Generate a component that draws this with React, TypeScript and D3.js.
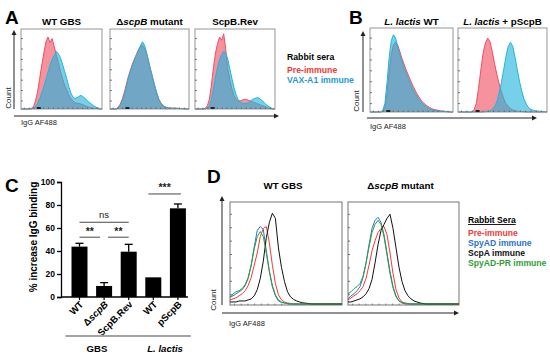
import { useEffect, useRef } from 'react'
import * as d3 from 'd3'

// A: GBS strains, rabbit sera (share of frame height per channel bin)
const wtGbsPre = [0, 0, 0, 0, 0, 0.01, 0.03, 0.1, 0.22, 0.38, 0.55, 0.7, 0.84, 0.9, 0.83, 0.88, 0.78, 0.68, 0.58, 0.47, 0.38, 0.3, 0.24, 0.18, 0.13, 0.1, 0.08, 0.07, 0.07, 0.06, 0.05, 0.04, 0.03, 0.02, 0.015, 0.01, 0.01, 0.005, 0, 0]
const wtGbsVax = [0, 0, 0, 0, 0, 0, 0.01, 0.03, 0.07, 0.13, 0.2, 0.28, 0.37, 0.46, 0.55, 0.62, 0.67, 0.72, 0.69, 0.64, 0.56, 0.47, 0.38, 0.28, 0.2, 0.15, 0.13, 0.14, 0.16, 0.17, 0.15, 0.13, 0.1, 0.08, 0.06, 0.04, 0.025, 0.015, 0.005, 0]
const mutantPre = [0, 0, 0, 0, 0.02, 0.06, 0.12, 0.2, 0.3, 0.4, 0.48, 0.56, 0.62, 0.68, 0.74, 0.78, 0.8, 0.76, 0.7, 0.6, 0.5, 0.4, 0.3, 0.21, 0.13, 0.08, 0.05, 0.03, 0.02, 0.015, 0.01, 0.01, 0.01, 0.01, 0.008, 0.005, 0.005, 0.003, 0, 0]
const mutantVax = [0, 0, 0, 0, 0.01, 0.04, 0.09, 0.16, 0.26, 0.37, 0.46, 0.54, 0.61, 0.67, 0.73, 0.79, 0.84, 0.8, 0.71, 0.6, 0.49, 0.39, 0.29, 0.2, 0.12, 0.07, 0.04, 0.025, 0.015, 0.01, 0.01, 0.01, 0.008, 0.008, 0.006, 0.005, 0.004, 0.002, 0, 0]
const revPre = [0, 0, 0, 0, 0, 0.01, 0.04, 0.12, 0.3, 0.52, 0.7, 0.82, 0.9, 0.86, 0.94, 0.74, 0.5, 0.36, 0.25, 0.17, 0.12, 0.1, 0.1, 0.11, 0.12, 0.12, 0.11, 0.1, 0.09, 0.08, 0.07, 0.06, 0.05, 0.04, 0.03, 0.02, 0.01, 0.005, 0, 0]
const revVax = [0, 0, 0, 0, 0, 0, 0.01, 0.04, 0.12, 0.25, 0.4, 0.52, 0.62, 0.68, 0.72, 0.7, 0.62, 0.5, 0.38, 0.27, 0.18, 0.12, 0.09, 0.07, 0.07, 0.07, 0.08, 0.1, 0.12, 0.13, 0.14, 0.14, 0.12, 0.1, 0.07, 0.05, 0.03, 0.015, 0.005, 0]

// B: L. lactis
const lactisWtPre = [0, 0, 0, 0, 0, 0, 0.01, 0.06, 0.22, 0.48, 0.68, 0.8, 0.83, 0.8, 0.72, 0.64, 0.57, 0.5, 0.44, 0.38, 0.32, 0.27, 0.22, 0.18, 0.14, 0.11, 0.09, 0.07, 0.055, 0.04, 0.03, 0.025, 0.02, 0.015, 0.01, 0.01, 0.005, 0, 0, 0]
const lactisWtVax = [0, 0, 0, 0, 0, 0, 0.02, 0.1, 0.35, 0.65, 0.85, 0.92, 0.88, 0.78, 0.68, 0.6, 0.52, 0.46, 0.4, 0.34, 0.28, 0.23, 0.19, 0.15, 0.12, 0.09, 0.07, 0.05, 0.04, 0.03, 0.02, 0.015, 0.01, 0.01, 0.008, 0.005, 0.005, 0.003, 0, 0]
const lactisPscpbPre = [0, 0, 0, 0, 0, 0, 0, 0.02, 0.1, 0.28, 0.5, 0.7, 0.82, 0.88, 0.84, 0.72, 0.58, 0.45, 0.34, 0.24, 0.16, 0.1, 0.07, 0.04, 0.025, 0.015, 0.01, 0.005, 0.005, 0.003, 0, 0, 0, 0, 0, 0, 0, 0, 0, 0]
const lactisPscpbVax = [0, 0, 0, 0, 0, 0, 0, 0, 0, 0, 0, 0, 0.005, 0.01, 0.015, 0.03, 0.06, 0.12, 0.22, 0.35, 0.5, 0.66, 0.78, 0.83, 0.78, 0.65, 0.5, 0.36, 0.24, 0.15, 0.09, 0.05, 0.03, 0.02, 0.015, 0.01, 0.01, 0.005, 0.005, 0]

// C: % increase IgG binding
const barLabels = ['WT', 'ΔscpB', 'ScpB.Rev', 'WT', 'pScpB']
const barMeans = [43.8, 9.6, 39.4, 17.1, 77.1]
const barErrors = [2.9, 2.9, 6.4, 0, 3.8]
const yTicks = [0, 20, 40, 60, 80, 100]
const comparisons: [number, number, string][] = [[0, 1, '**'], [1, 2, '**'], [0, 2, 'ns'], [3, 4, '***']]
const groups: [string, number, number][] = [['GBS', 0, 2], ['L. lactis', 3, 4]]

// D: four sera, line histograms
const dWtPre = [0.04, 0.05, 0.06, 0.08, 0.1, 0.13, 0.18, 0.26, 0.38, 0.5, 0.66, 0.74, 0.76, 0.6, 0.38, 0.2, 0.09, 0.04, 0.02, 0.01, 0.005, 0, 0, 0, 0, 0, 0, 0, 0, 0, 0, 0, 0, 0, 0, 0, 0, 0]
const dWtSpyad = [0.07, 0.08, 0.1, 0.12, 0.14, 0.18, 0.25, 0.38, 0.56, 0.72, 0.76, 0.73, 0.52, 0.32, 0.17, 0.08, 0.03, 0.015, 0.01, 0.005, 0, 0, 0, 0, 0, 0, 0, 0, 0, 0, 0, 0, 0, 0, 0, 0, 0, 0]
const dWtScpa = [0.02, 0.02, 0.02, 0.03, 0.03, 0.03, 0.04, 0.05, 0.08, 0.14, 0.25, 0.42, 0.65, 0.8, 0.89, 0.84, 0.55, 0.36, 0.22, 0.12, 0.07, 0.045, 0.03, 0.02, 0.012, 0.008, 0.005, 0, 0, 0, 0, 0, 0, 0, 0, 0, 0, 0]
const dWtSpyadPr = [0.06, 0.1, 0.12, 0.13, 0.15, 0.19, 0.26, 0.38, 0.54, 0.66, 0.71, 0.66, 0.5, 0.32, 0.18, 0.09, 0.04, 0.02, 0.01, 0.005, 0, 0, 0, 0, 0, 0, 0, 0, 0, 0, 0, 0, 0, 0, 0, 0, 0, 0]
const dMutPre = [0.04, 0.06, 0.08, 0.1, 0.13, 0.17, 0.25, 0.38, 0.52, 0.62, 0.7, 0.74, 0.76, 0.68, 0.5, 0.3, 0.14, 0.06, 0.02, 0.01, 0.005, 0, 0, 0, 0, 0, 0, 0, 0, 0, 0, 0, 0, 0, 0, 0, 0, 0]
const dMutSpyad = [0.05, 0.08, 0.1, 0.13, 0.17, 0.26, 0.4, 0.58, 0.74, 0.82, 0.85, 0.8, 0.68, 0.5, 0.32, 0.17, 0.08, 0.03, 0.01, 0.005, 0, 0, 0, 0, 0, 0, 0, 0, 0, 0, 0, 0, 0, 0, 0, 0, 0, 0]
const dMutScpa = [0.02, 0.02, 0.03, 0.04, 0.05, 0.07, 0.1, 0.15, 0.24, 0.4, 0.58, 0.72, 0.78, 0.84, 0.88, 0.74, 0.55, 0.36, 0.22, 0.13, 0.08, 0.05, 0.03, 0.02, 0.01, 0.005, 0, 0, 0, 0, 0, 0, 0, 0, 0, 0, 0, 0]
const dMutSpyadPr = [0.1, 0.12, 0.15, 0.17, 0.2, 0.27, 0.4, 0.56, 0.7, 0.78, 0.82, 0.78, 0.66, 0.48, 0.3, 0.16, 0.07, 0.03, 0.01, 0.005, 0, 0, 0, 0, 0, 0, 0, 0, 0, 0, 0, 0, 0, 0, 0, 0, 0, 0]

const seraA = ['Pre-immune', 'VAX-A1 immune']
const seraD = ['Pre-immune', 'SpyAD immune', 'ScpA immune', 'SpyAD-PR immune']

const FONT = '"Liberation Sans", Arial, Helvetica, sans-serif'
const PINK = '#ef4f62'
const CYAN = '#20b4dc'
const D_COLORS = ['#f23a35', '#2a72d6', '#111111', '#2e9e35']

type Frame = { x0: number; x1: number; y0: number; y1: number }
type Part = [string, boolean]

function rich(g: any, x: number, y: number, parts: Part[], size: number, o: any = {}) {
  const t = g
    .append('text')
    .attr('x', x)
    .attr('y', y)
    .attr('font-family', FONT)
    .attr('font-size', size)
    .attr('font-weight', o.weight || 'bold')
    .attr('text-anchor', o.anchor || 'start')
    .attr('fill', o.fill || '#000')
  if (o.transform) t.attr('transform', o.transform)
  parts.forEach(([s, it]) => t.append('tspan').attr('font-style', it ? 'italic' : 'normal').text(s))
  return t
}

function frame(g: any, f: Frame, color: string) {
  g.append('rect')
    .attr('x', f.x0).attr('y', f.y0)
    .attr('width', f.x1 - f.x0).attr('height', f.y1 - f.y0)
    .attr('fill', 'none').attr('stroke', color).attr('stroke-width', 0.9)
  const y = d3.scaleLinear().domain([0, 1]).range([f.y1, f.y0])
  const x = d3.scaleLinear().domain([0, 1]).range([f.x0, f.x1])
  d3.range(0.1, 1, 0.13).forEach((v) => {
    g.append('line').attr('x1', f.x0).attr('x2', f.x0 + 2).attr('y1', y(v)).attr('y2', y(v))
      .attr('stroke', '#444').attr('stroke-width', 0.7)
  })
  d3.range(0.04, 1, 0.06).forEach((v) => {
    g.append('line').attr('x1', x(v)).attr('x2', x(v)).attr('y1', f.y1).attr('y2', f.y1 - 1.5)
      .attr('stroke', '#444').attr('stroke-width', 0.6)
  })
}

function zeroMark(g: any, f: Frame) {
  const x = f.x0 + (f.x1 - f.x0) * 0.22
  g.append('rect').attr('x', x - 2).attr('y', f.y1 - 2).attr('width', 4).attr('height', 2).attr('fill', '#222')
}

function filled(g: any, f: Frame, series: { v: number[]; color: string }[]) {
  series.forEach((s) => {
    const x = d3.scaleLinear().domain([0, s.v.length - 1]).range([f.x0, f.x1])
    const y = d3.scaleLinear().domain([0, 1]).range([f.y1, f.y0])
    const area = d3.area<number>().x((_, i) => x(i)).y0(f.y1).y1((d) => y(d))
    const line = d3.line<number>().x((_, i) => x(i)).y((d) => y(d))
    g.append('path').datum(s.v).attr('d', area).attr('fill', s.color).attr('fill-opacity', 0.62)
    g.append('path').datum(s.v).attr('d', line).attr('fill', 'none').attr('stroke', s.color).attr('stroke-width', 1)
  })
}

function lines(g: any, f: Frame, series: number[][]) {
  series.forEach((v, k) => {
    const x = d3.scaleLinear().domain([0, v.length - 1]).range([f.x0, f.x1])
    const y = d3.scaleLinear().domain([0, 1]).range([f.y1 - 1, f.y0])
    const line = d3.line<number>().x((_, i) => x(i)).y((d) => y(d))
    g.append('path').datum(v).attr('d', line).attr('fill', 'none').attr('stroke', D_COLORS[k]).attr('stroke-width', 1)
  })
}

function arrows(g: any, ax: number, yTop: number, yBottom: number, ay: number, xLeft: number, xRight: number) {
  g.append('line').attr('x1', ax).attr('x2', ax).attr('y1', yBottom).attr('y2', yTop + 4).attr('stroke', '#222').attr('stroke-width', 1)
  g.append('path').attr('d', `M${ax - 2.5},${yTop + 5}L${ax},${yTop}L${ax + 2.5},${yTop + 5}Z`).attr('fill', '#222')
  g.append('line').attr('x1', xLeft).attr('x2', xRight - 4).attr('y1', ay).attr('y2', ay).attr('stroke', '#222').attr('stroke-width', 1)
  g.append('path').attr('d', `M${xRight - 5},${ay - 2.5}L${xRight},${ay}L${xRight - 5},${ay + 2.5}Z`).attr('fill', '#222')
}

function axisTexts(g: any, cx: number, cy: number, lx: number, ly: number) {
  rich(g, 0, 0, [['Count', false]], 8, { weight: 'normal', anchor: 'middle', fill: '#222', transform: `translate(${cx},${cy}) rotate(-90)` })
  rich(g, lx, ly, [['IgG AF488', false]], 7.5, { weight: 'normal', fill: '#222' })
}

export default function App() {
  const ref = useRef<SVGSVGElement>(null)

  useEffect(() => {
    const svg = d3.select(ref.current)
    svg.selectAll('*').remove()
    const g = svg.append('g')

    // panel letters
    ;[['A', 5, 24], ['B', 349, 24], ['C', 5, 192], ['D', 207, 183]].forEach(([t, x, y]) =>
      rich(g, x as number, y as number, [[t as string, false]], 19))

    // ---- A
    const fa: Frame[] = [
      { x0: 21, x1: 102, y0: 29, y1: 109 },
      { x0: 110, x1: 189, y0: 29, y1: 109 },
      { x0: 195, x1: 275, y0: 29, y1: 109 },
    ]
    const aData = [[wtGbsPre, wtGbsVax], [mutantPre, mutantVax], [revPre, revVax]]
    const aTitles: Part[][] = [[['WT GBS', false]], [['Δ', false], ['scpB', true], [' mutant', false]], [['ScpB.Rev', false]]]
    fa.forEach((f, i) => {
      filled(g, f, [{ v: aData[i][0], color: PINK }, { v: aData[i][1], color: CYAN }])
      frame(g, f, '#8a8a8a')
      zeroMark(g, f)
      rich(g, (f.x0 + f.x1) / 2, 25, aTitles[i], 9.8, { anchor: 'middle' })
    })
    arrows(g, 14, 30, 109, 116, 14, 279)
    axisTexts(g, 10.5, 98, 21, 125)

    rich(g, 287, 60, [['Rabbit sera', false]], 8.7)
    seraA.forEach((s, i) => rich(g, 287, 73 + i * 9.5, [[s, false]], 8.7, { fill: i === 0 ? '#f4372f' : '#1d98da' }))

    // ---- B
    const fb: Frame[] = [
      { x0: 370, x1: 453, y0: 28, y1: 112 },
      { x0: 458, x1: 547, y0: 28, y1: 112 },
    ]
    const bData = [[lactisWtPre, lactisWtVax], [lactisPscpbPre, lactisPscpbVax]]
    const bTitles: Part[][] = [[['L. lactis', true], ['  WT', false]], [['L. lactis', true], [' + pScpB', false]]]
    fb.forEach((f, i) => {
      filled(g, f, [{ v: bData[i][0], color: PINK }, { v: bData[i][1], color: CYAN }])
      frame(g, f, '#8a8a8a')
      zeroMark(g, f)
      rich(g, (f.x0 + f.x1) / 2, 25, bTitles[i], 9.8, { anchor: 'middle' })
    })
    arrows(g, 363, 31, 112, 118, 367, 537)
    axisTexts(g, 359, 101, 370, 129)

    // ---- C
    const y = d3.scaleLinear().domain([0, 100]).range([297, 182])
    const x = d3.scaleBand<number>().domain(d3.range(barLabels.length)).range([67.2, 190.2]).paddingInner(0.35).paddingOuter(0.175)
    const cx = (i: number) => (x(i) as number) + x.bandwidth() / 2

    const cg = g.append('g')
    barMeans.forEach((m, i) => {
      if (barErrors[i] > 0) {
        cg.append('line').attr('x1', cx(i)).attr('x2', cx(i)).attr('y1', y(m)).attr('y2', y(m + barErrors[i])).attr('stroke', '#000').attr('stroke-width', 1.3)
        cg.append('line').attr('x1', cx(i) - 4).attr('x2', cx(i) + 4).attr('y1', y(m + barErrors[i])).attr('y2', y(m + barErrors[i])).attr('stroke', '#000').attr('stroke-width', 1.3)
      }
    })
    cg.selectAll('rect.bar').data(barMeans).enter().append('rect')
      .attr('x', (_: number, i: number) => x(i) as number)
      .attr('y', (d: number) => y(d))
      .attr('width', x.bandwidth())
      .attr('height', (d: number) => y(0) - y(d))
      .attr('fill', '#000')

    const yAxis = cg.append('g').attr('transform', 'translate(61,0)')
      .call(d3.axisLeft(y).tickValues(yTicks).tickSize(4).tickPadding(2).tickFormat(d3.format('d')))
    yAxis.selectAll('path, line').attr('stroke', '#000').attr('stroke-width', 1.3)
    yAxis.selectAll('text').attr('font-family', FONT).attr('font-size', 8.5).attr('font-weight', 'bold').attr('fill', '#000')

    cg.append('line').attr('x1', 61).attr('x2', 188).attr('y1', y(0)).attr('y2', y(0)).attr('stroke', '#000').attr('stroke-width', 1.3)
    barLabels.forEach((l, i) => {
      cg.append('line').attr('x1', cx(i)).attr('x2', cx(i)).attr('y1', y(0)).attr('y2', y(0) + 3).attr('stroke', '#000').attr('stroke-width', 1.2)
      const parts: Part[] = l.startsWith('Δ') ? [['Δ', false], [l.slice(1), true]] : [[l, false]]
      rich(cg, 0, 0, parts, 9.6, { anchor: 'end', transform: `translate(${cx(i) + 4.5},${y(0) + 8}) rotate(-45)` })
    })

    rich(cg, 0, 0, [['% increase IgG binding', false]], 10, { anchor: 'middle', transform: 'translate(37,237) rotate(-90)' })

    const level: Record<string, number> = { '0-1': 52, '1-2': 52, '0-2': 65, '3-4': 89.6 }
    comparisons.forEach(([a, b, lab]) => {
      const ly = y(level[`${a}-${b}`])
      const xa = a === 1 ? cx(a) + 4 : a === 3 ? cx(a) - 5 : cx(a)
      const xb = b === 1 ? cx(b) - 4 : b === 4 ? cx(b) + 3 : cx(b)
      cg.append('line').attr('x1', xa).attr('x2', xb).attr('y1', ly).attr('y2', ly).attr('stroke', '#333').attr('stroke-width', 0.9)
      const isStar = lab.includes('*')
      rich(cg, (xa + xb) / 2, isStar ? ly + (lab === '***' ? -2.5 : -2) : ly - 4, [[lab, false]], isStar ? 10.5 : 9.5, {
        anchor: 'middle', weight: isStar ? 'bold' : 'normal', fill: '#222',
      })
    })

    groups.forEach(([name, a, b]) => {
      const xa = (x(a) as number) - 6
      const xb = (x(b) as number) + x.bandwidth() + 5
      cg.append('line').attr('x1', xa).attr('x2', xb).attr('y1', 336).attr('y2', 336).attr('stroke', '#a3a3a3').attr('stroke-width', 2)
      rich(cg, name === 'GBS' ? 97 : (xa + xb) / 2, 352, [[name, name !== 'GBS']], 9.6, { anchor: 'middle' })
    })

    // ---- D
    const fd: Frame[] = [
      { x0: 230, x1: 342, y0: 202, y1: 305 },
      { x0: 348, x1: 459, y0: 202, y1: 305 },
    ]
    const dData = [[dWtPre, dWtSpyad, dWtScpa, dWtSpyadPr], [dMutPre, dMutSpyad, dMutScpa, dMutSpyadPr]]
    const dTitles: Part[][] = [[['WT GBS', false]], [['Δ', false], ['scpB', true], [' mutant', false]]]
    fd.forEach((f, i) => {
      frame(g, f, '#666')
      lines(g, f, dData[i])
      rich(g, (f.x0 + f.x1) / 2 - 3, 189, dTitles[i], 9.8, { anchor: 'middle' })
    })
    arrows(g, 222, 196, 305, 313, 222, 459)
    axisTexts(g, 216, 300, 229, 326)

    const rs = rich(g, 468, 223, [['Rabbit Sera', false]], 8.6)
    const w = (rs.node() as SVGTextElement).getComputedTextLength()
    g.append('line').attr('x1', 468).attr('x2', 468 + w).attr('y1', 224.5).attr('y2', 224.5).attr('stroke', '#000').attr('stroke-width', 0.9)
    seraD.forEach((s, i) => rich(g, 468, 236 + i * 10, [[s, false]], 8.6, { fill: D_COLORS[i] }))
  }, [])

  return (
    <div style={{ position: 'absolute', left: 0, top: 0 }}>
      <svg ref={ref} width={550} height={359} style={{ display: 'block', background: '#fff' }} />
    </div>
  )
}
